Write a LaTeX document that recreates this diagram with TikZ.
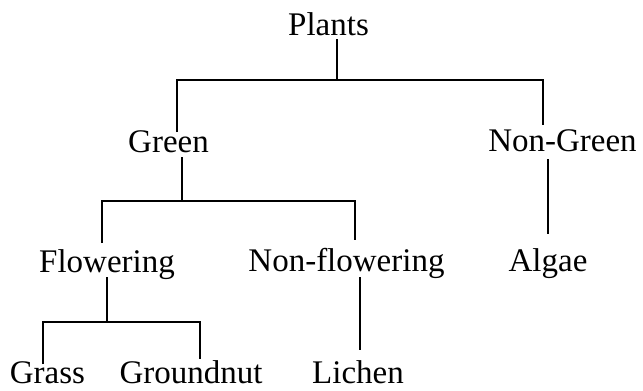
\documentclass[tikz,border=0pt]{standalone}
\usepackage{fontspec}
\setmainfont{Liberation Serif}
\begin{document}
\begin{tikzpicture}[x=1pt,y=-1pt,
  lbl/.style={anchor=base,inner sep=0pt,font=\fontsize{33}{40}\selectfont},
  tree/.style={line width=1.8pt,line cap=butt}]
\useasboundingbox (0,0) rectangle (643,391);
\node[lbl] (plants) at (328.5,35) {Plants};
\node[lbl] (green) at (168.5,152) {Green};
\node[lbl] (nongreen) at (562.5,151) {Non-Green};
\node[lbl] (flow) at (107,272) {Flowering};
\node[lbl] (nonflow) at (346.5,271) {Non-flowering};
\node[lbl] (algae) at (548,271) {Algae};
\node[lbl] (grass) at (47.5,383) {Grass};
\node[lbl] (ground) at (191,383) {Groundnut};
\node[lbl] (lichen) at (358,383) {Lichen};
% junction points
\coordinate (p1) at (337,39);
\coordinate (p2) at (337,80);
\coordinate (g0) at (177,132);
\coordinate (n0) at (543,125);
\coordinate (g1) at (182,157);
\coordinate (g2) at (182,201);
\coordinate (f0) at (102,243);
\coordinate (nf0) at (355,240);
\coordinate (ng1) at (548,159);
\coordinate (a0) at (548,234);
\coordinate (f1) at (107,277);
\coordinate (f2) at (107,322);
\coordinate (gr0) at (43,364);
\coordinate (gn0) at (200,359);
\coordinate (nf1) at (360,277);
\coordinate (l0) at (360,350);
\draw[tree] (p1) -- (p2);
\draw[tree] (g0) |- (p2) -| (n0);
\draw[tree] (g1) -- (g2);
\draw[tree] (f0) |- (g2) -| (nf0);
\draw[tree] (ng1) -- (a0);
\draw[tree] (f1) -- (f2);
\draw[tree] (gr0) |- (f2) -| (gn0);
\draw[tree] (nf1) -- (l0);
\end{tikzpicture}
\end{document}
